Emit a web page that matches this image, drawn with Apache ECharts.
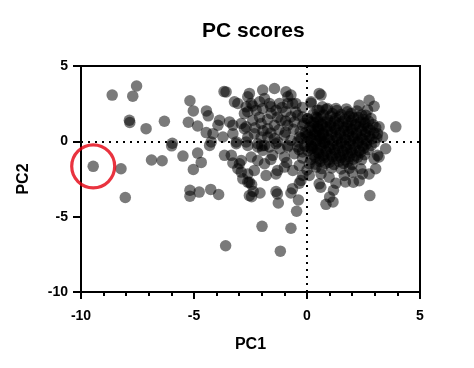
<!DOCTYPE html>
<html>
<head>
<meta charset="utf-8">
<script src="https://cdn.jsdelivr.net/npm/echarts@6/dist/echarts.min.js"></script>
<style>html,body{margin:0;padding:0;background:#fff}#c{width:474px;height:368px}</style>
</head>
<body>
<div id="c"></div>
<script>
// Chart text
const titleText = 'PC scores';
const xName = 'PC1';
const yName = 'PC2';
const xTicks = [-10, -5, 0, 5];
const yTicks = [-10, -5, 0, 5];

// Highlighted sample (red circle)
const circledPoint = [-9.46, -1.66];

// Outlying / sparse samples [PC1, PC2]
const outerPoints = [
[-9.46,-1.66],[-8.62,3.07],[-7.54,3.67],[-7.71,3.00],[-7.86,1.40],[-7.84,1.25],[-7.12,0.84],[-6.31,1.33],
[-8.23,-1.82],[-8.04,-3.73],[-6.88,-1.24],[-6.41,-1.29],[-5.96,-0.13],[-5.99,-0.30],[-5.49,-0.98],[-4.84,-0.78],
[-4.68,-1.40],[-5.03,-1.87],[-5.18,2.69],[-5.03,2.02],[-5.25,1.27],[-4.84,1.02],[-4.45,2.02],[-4.37,1.69],
[-3.67,3.30],[-3.58,3.28],[-5.18,-3.25],[-5.18,-3.64],[-4.77,-3.37],[-4.26,-3.19],[-3.91,-3.53],[-3.60,-6.93],
[-1.99,-5.64],[-0.71,-5.77],[-1.18,-7.29],[-0.46,-4.64],[-0.38,-3.89],[2.78,-3.60]
];

// Left-middle samples
const midLeftPoints = [
[-3.87,1.40],[-3.94,1.07],[-4.46,0.58],[-4.16,0.51],[-4.24,-0.04],[-3.72,0.29],[-3.28,0.51],[-3.13,-0.04],
[-2.69,-0.04],[-3.21,2.62],[-3.06,2.51],[-2.69,2.29],[-2.77,1.84],[-3.43,1.29],[-3.28,1.07],[-2.91,1.18],
[-2.69,0.96],[-4.31,-0.27],[-3.65,-0.93],[-3.35,-0.93],[-3.28,-1.44],[-3.06,-1.82],[-2.91,-2.04],[-2.84,-2.49],
[-2.99,-1.49],[-2.91,-1.27],[-2.55,-2.71],[-2.55,-3.60],[-2.62,-2.16],[-3.13,-0.16]
];

// Central samples (PC1 between about -2.8 and 0.8)
const midPoints = [
[-1.96,3.40],[-1.44,3.51],[-2.55,3.18],[-2.62,2.96],[-2.47,2.51],[-2.10,2.62],[-1.88,2.84],[-1.66,2.51],
[-1.22,2.51],[-0.85,2.96],[-0.71,3.07],[-0.49,2.51],[-0.85,2.51],[0.18,2.62],[0.62,3.07],[-2.62,1.96],
[-2.25,2.07],[-1.96,2.18],[-1.59,1.84],[-1.37,2.07],[-0.93,1.96],[-0.71,1.62],[-0.41,1.73],[-0.19,1.62],
[0.03,1.51],[-2.77,0.84],[-2.40,1.40],[-2.03,1.18],[-1.74,0.84],[-1.44,1.07],[-1.15,1.40],[-0.85,1.07],
[-0.56,1.29],[-0.19,1.07],[0.18,1.29],[0.40,1.62],[0.54,2.07],[0.47,0.96],[0.69,0.51],[-2.62,0.29],
[-2.33,0.51],[-2.03,0.29],[-1.74,0.29],[-1.44,0.18],[-1.00,0.40],[-0.71,0.07],[-0.34,0.29],[0.03,0.40],
[0.40,0.40],[0.69,-0.04],[-2.18,-0.38],[-1.88,-0.27],[-1.30,-0.04],[-0.85,-0.38],[-0.41,-0.38],[0.18,-0.27],
[-2.62,-0.27],[-2.18,-0.16],[-1.96,-0.60],[-1.66,-0.38],[-1.37,-0.16],[-0.85,-0.27],[-0.41,-0.04],[0.18,-0.49],
[0.54,-0.82],[-0.56,-0.82],[-1.00,-1.04],[-1.52,-0.93],[-2.47,-1.04],[-2.18,-1.27],[-1.88,-1.49],[-2.33,-1.93],
[-1.81,-2.27],[-1.37,-2.16],[-1.30,-1.93],[-1.00,-1.71],[-0.63,-1.93],[-0.34,-1.60],[0.10,-1.49],[0.40,-1.71],
[0.62,-2.16],[-2.62,-2.71],[-0.27,-2.60],[-0.19,-2.27],[0.10,-2.27],
[0.54,3.18],[0.18,2.53],[0.45,2.07],[0.68,2.29],[-0.93,3.29],[-0.64,2.51],
[-2.30,0.90],[-1.95,0.70],[-1.60,0.55],[-1.25,0.75],[-0.95,0.60],[-0.60,0.80],[-0.30,0.65],[-2.10,1.60],
[-1.75,1.45],[-1.30,1.60],[-0.95,1.35],[-0.50,1.95],[-0.20,2.25],[-1.10,2.25],[-1.60,2.30],[-2.40,2.35],
[-2.00,-0.30],[-1.20,-0.50],[-0.20,-0.70],[-0.90,-1.40],[-1.60,-1.20],[-0.20,-1.10],[0.00,-1.90],
[-0.10,-0.30],[-0.25,0.20],[-0.05,0.35],[-0.35,-0.55]
];

// Lower samples
const lowerPoints = [
[0.84,-4.18],[1.15,-4.02],[1.00,-3.70],[1.17,-3.25],[-2.45,-3.67],[-2.38,-3.33],[-2.45,-2.87],[-2.08,-3.43],
[-1.37,-3.33],[-1.31,-3.49],[-1.27,-4.09],[-0.71,-3.43],[-0.64,-3.14],[-0.34,-2.78],[0.61,-3.04],[0.54,-2.82],
[1.28,-2.78],[1.70,-2.70],[2.05,-2.71],[2.31,-2.62]
];

// Right edge of the main cluster
const rightPoints = [
[0.91,2.18],[1.28,2.18],[1.79,1.96],[2.31,2.40],[2.75,2.73],[2.97,2.33],[2.68,2.07],[2.60,1.73],
[3.19,0.96],[3.93,0.96],[3.34,0.29],[3.48,-0.49],[3.12,0.51],[3.19,-1.04],[3.12,-0.93],[2.97,-1.16],
[3.04,-1.82],[2.75,-2.16],[2.38,-1.82],[2.46,-2.16],[2.01,-2.04],[1.65,-2.27],[0.98,-2.38]
];

// Dense core of the main cluster
const corePoints = [
[0.85,2.12],[1.32,2.05],[1.74,2.15],[2.21,2.02],
[0.28,1.82],[0.72,1.76],[1.12,1.85],[1.51,1.78],[1.96,1.84],[2.42,1.75],
[0.02,1.48],[0.46,1.55],[0.91,1.44],[1.27,1.52],[1.69,1.47],[2.06,1.56],[2.49,1.45],[2.83,1.52],
[-0.12,1.18],[0.31,1.24],[0.66,1.15],[1.04,1.22],[1.41,1.16],[1.82,1.25],[2.16,1.14],[2.57,1.21],[2.92,1.12],
[0.12,0.92],[0.49,0.86],[0.86,0.95],[1.21,0.88],[1.62,0.93],[1.94,0.84],[2.31,0.95],[2.69,0.87],[3.04,0.91],
[-0.06,0.58],[0.36,0.64],[0.72,0.55],[1.09,0.62],[1.46,0.57],[1.81,0.66],[2.19,0.56],[2.61,0.63],[2.96,0.55],
[0.14,0.27],[0.56,0.33],[0.91,0.24],[1.29,0.31],[1.66,0.26],[2.02,0.34],[2.39,0.25],[2.76,0.32],[3.09,0.24],
[0.01,-0.03],[0.41,0.04],[0.79,-0.05],[1.16,0.02],[1.52,-0.04],[1.89,0.05],[2.26,-0.02],[2.64,0.03],[2.99,-0.06],
[0.21,-0.32],[0.59,-0.26],[0.96,-0.34],[1.34,-0.27],[1.71,-0.33],[2.04,-0.25],[2.46,-0.31],[2.84,-0.28],
[0.04,-0.62],[0.46,-0.57],[0.84,-0.64],[1.21,-0.56],[1.56,-0.63],[1.94,-0.58],[2.31,-0.62],[2.71,-0.55],
[0.29,-0.88],[0.71,-0.94],[1.06,-0.87],[1.44,-0.93],[1.79,-0.86],[2.16,-0.92],[2.54,-0.89],
[0.16,-1.22],[0.54,-1.17],[0.94,-1.24],[1.31,-1.16],[1.69,-1.23],[2.06,-1.18],[2.41,-1.21],
[0.39,-1.52],[0.81,-1.46],[1.19,-1.54],[1.61,-1.47],[1.99,-1.53],
[0.66,-1.81],[1.09,-1.77],[1.51,-1.84],[1.88,-1.79],
[0.62,1.62],[1.05,1.68],[1.44,1.63],[1.88,1.66],[2.27,1.60],
[0.48,1.32],[0.84,1.28],[1.22,1.35],[1.59,1.30],[1.98,1.37],[2.36,1.29],[2.72,1.34],
[0.28,1.03],[0.68,1.07],[1.04,1.01],[1.38,1.05],[1.77,1.02],[2.12,1.08],[2.51,1.00],
[0.18,0.74],[0.53,0.78],[0.92,0.72],[1.28,0.77],[1.64,0.71],[2.01,0.79],[2.41,0.73],[2.79,0.76],
[0.34,0.45],[0.73,0.41],[1.11,0.47],[1.48,0.42],[1.84,0.48],[2.22,0.40],[2.58,0.46],
[0.21,0.14],[0.60,0.18],[0.98,0.11],[1.35,0.16],[1.72,0.12],[2.09,0.19],[2.47,0.13],[2.86,0.16],
[0.38,-0.16],[0.77,-0.12],[1.14,-0.19],[1.52,-0.14],[1.88,-0.18],[2.26,-0.13],[2.63,-0.17],
[0.24,-0.45],[0.63,-0.41],[1.02,-0.48],[1.39,-0.43],[1.76,-0.47],[2.13,-0.42],[2.51,-0.46],
[0.49,-0.76],[0.88,-0.72],[1.26,-0.78],[1.63,-0.73],[1.99,-0.77],[2.36,-0.74],
[0.36,-1.04],[0.75,-1.08],[1.13,-1.02],[1.51,-1.07],[1.87,-1.03],[2.24,-1.06],
[0.58,-1.34],[0.99,-1.38],[1.41,-1.33],[1.80,-1.37]
];

const allPoints = [].concat(outerPoints, midLeftPoints, midPoints, lowerPoints, rightPoints, corePoints);

const FONT = '"Liberation Sans", Arial, sans-serif';
const chart = echarts.init(document.getElementById('c'), null, {renderer: 'canvas'});
const axisCommon = {
  type: 'value', min: -10, max: 5, interval: 5,
  axisLine: {show: true, onZero: false, lineStyle: {color: '#000', width: 2}},
  axisTick: {show: true, inside: false, lineStyle: {color: '#000', width: 2}},
  splitLine: {show: false},
  nameLocation: 'middle',
  nameTextStyle: {color: '#000', fontWeight: 'bold', fontSize: 16, fontFamily: FONT},
  axisLabel: {color: '#000', fontWeight: 'bold', fontSize: 14, fontFamily: FONT,
    formatter: v => String(v)}
};
chart.setOption({
  animation: false,
  backgroundColor: '#fff',
  title: {text: titleText, left: 197, top: 16,
    textStyle: {color: '#000', fontWeight: 'bold', fontSize: 21, fontFamily: FONT}},
  grid: {left: 81, right: 54, top: 66, bottom: 76, containLabel: false, outerBoundsMode: 'none',
    show: true, borderColor: '#000', borderWidth: 2, backgroundColor: 'transparent'},
  xAxis: Object.assign({}, axisCommon, {
    name: xName, nameGap: 45,
    axisTick: {show: true, length: 7, lineStyle: {color: '#000', width: 2}},
    minorTick: {show: true, splitNumber: 5, length: 4, lineStyle: {color: '#000', width: 2}},
    axisLabel: Object.assign({}, axisCommon.axisLabel, {margin: 17,
      customValues: xTicks})
  }),
  yAxis: Object.assign({}, axisCommon, {
    name: yName, nameGap: 49,
    axisTick: {show: true, length: 8, lineStyle: {color: '#000', width: 2}},
    axisLabel: Object.assign({}, axisCommon.axisLabel, {margin: 13,
      customValues: yTicks})
  }),
  series: [
    {
      type: 'scatter', data: allPoints, symbol: 'circle', symbolSize: 11.5,
      itemStyle: {color: '#000', opacity: 0.52},
      silent: true, z: 2,
      markLine: {
        silent: true, symbol: ['none', 'none'], label: {show: false},
        lineStyle: {color: '#000', type: [2, 5], width: 2},
        data: [{xAxis: 0}, {yAxis: 0}]
      }
    },
    {
      type: 'scatter', data: [circledPoint], symbol: 'circle', symbolSize: 43,
      itemStyle: {color: 'rgba(0,0,0,0)', borderColor: '#e3000f', borderWidth: 3.2},
      silent: true, z: 5
    }
  ]
});
</script>
</body>
</html>
